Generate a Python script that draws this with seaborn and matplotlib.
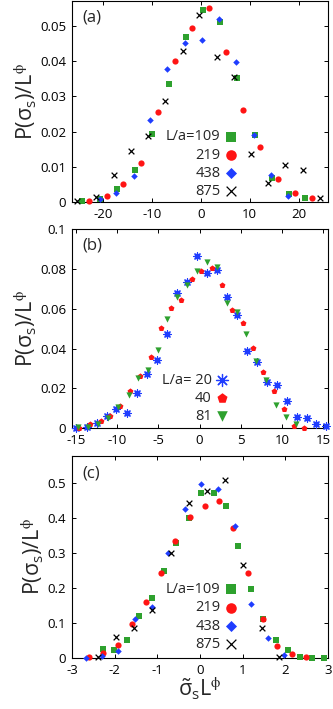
import numpy as np
import pandas as pd
import matplotlib
matplotlib.use("Agg")
import matplotlib.pyplot as plt
from matplotlib.ticker import FuncFormatter
import seaborn as sns

sns.set_style("ticks")
plt.rcParams['font.family'] = ['Open Sans', 'DejaVu Sans']
plt.rcParams['mathtext.fontset'] = 'custom'
plt.rcParams['mathtext.rm'] = 'Open Sans'
plt.rcParams['mathtext.it'] = 'Open Sans'
plt.rcParams['mathtext.sf'] = 'Open Sans'
plt.rcParams['axes.unicode_minus'] = False

# ---------------- panel (a) ----------------
a109_x = [-24.3, -20.5, -17.1, -13.5, -10.0, -6.5, -3.1, 0.5, 3.9, 7.5, 11.0, 14.5, 18.0, 21.4]
a109_y = [0.0004, 0.0008, 0.0037, 0.0092, 0.0194, 0.0334, 0.0468, 0.0544, 0.0512, 0.0352, 0.0190, 0.0069, 0.0023, 0.0011]
a219_x = [-22.8, -19.2, -15.8, -12.2, -8.8, -5.2, -1.8, 1.7, 5.2, 8.7, 12.2, 15.7, 19.2, 22.7]
a219_y = [0.0003, 0.0018, 0.0050, 0.0110, 0.0255, 0.0400, 0.0493, 0.0550, 0.0426, 0.0261, 0.0157, 0.0065, 0.0025, 0.0011]
a438_x = [-20.6, -17.2, -13.7, -10.3, -6.8, -3.3, 0.3, 3.7, 7.2, 10.9, 14.3, 17.8]
a438_y = [0.0008, 0.0025, 0.0074, 0.0234, 0.0376, 0.0451, 0.0460, 0.0520, 0.0398, 0.0191, 0.0076, 0.0018]
a875_x = [-25.2, -21.3, -17.8, -14.3, -10.7, -7.3, -3.7, -0.3, 3.3, 6.7, 10.3, 13.8, 17.3, 20.8, 24.3]
a875_y = [0.0002, 0.0013, 0.0078, 0.0146, 0.0186, 0.0286, 0.0429, 0.0531, 0.0410, 0.0356, 0.0135, 0.0055, 0.0105, 0.0090, 0.0011]

# ---------------- panel (b) ----------------
b20_x = [-15.0, -13.7, -12.4, -11.2, -10.1, -8.8, -7.6, -6.4, -5.2, -4.0, -2.7, -1.5, -0.3, 0.9, 2.1, 3.3, 4.6, 5.8, 7.0, 8.2, 9.4, 10.6, 11.8, 13.0, 14.2, 15.4]
b20_y = [0.0000, 0.0008, 0.0027, 0.0059, 0.0095, 0.0077, 0.0178, 0.0270, 0.0345, 0.0474, 0.0680, 0.0735, 0.0866, 0.0781, 0.0794, 0.0660, 0.0568, 0.0389, 0.0333, 0.0233, 0.0216, 0.0136, 0.0057, 0.0052, 0.0020, 0.0010]
b40_x = [-14.6, -13.3, -12.0, -10.9, -9.7, -8.4, -7.2, -5.9, -4.7, -3.5, -2.2, -0.9, 0.2, 1.5, 2.7, 4.0, 5.3, 6.5, 7.7, 9.0, 10.2, 11.5, 12.7]
b40_y = [0.0003, 0.0020, 0.0035, 0.0060, 0.0111, 0.0186, 0.0261, 0.0357, 0.0501, 0.0601, 0.0642, 0.0750, 0.0787, 0.0804, 0.0719, 0.0595, 0.0526, 0.0404, 0.0283, 0.0189, 0.0099, 0.0012, 0.0000]
b81_x = [-14.8, -13.5, -12.3, -11.1, -9.9, -8.6, -7.5, -6.3, -5.1, -3.9, -2.7, -1.5, -0.3, 0.9, 2.1, 3.3, 4.5, 5.7, 6.9, 8.1, 9.3, 10.5, 11.7]
b81_y = [0.0007, 0.0007, 0.0022, 0.0052, 0.0106, 0.0169, 0.0250, 0.0293, 0.0395, 0.0548, 0.0657, 0.0719, 0.0791, 0.0832, 0.0809, 0.0630, 0.0581, 0.0471, 0.0335, 0.0243, 0.0116, 0.0055, 0.0022]

# ---------------- panel (c) ----------------
c109_x = [-2.28, -2.01, -1.72, -1.42, -1.13, -0.84, -0.55, -0.26, 0.02, 0.32, 0.62, 0.90, 1.19, 1.48, 1.77, 2.06, 2.34, 2.63, 2.91]
c109_y = [0.027, 0.023, 0.052, 0.120, 0.173, 0.248, 0.329, 0.400, 0.474, 0.472, 0.435, 0.320, 0.197, 0.113, 0.052, 0.023, 0.004, 0.001, 0.000]
c219_x = [-2.61, -2.27, -1.93, -1.59, -1.27, -0.92, -0.58, -0.23, 0.11, 0.45, 0.78, 1.13, 1.47, 1.80, 2.15, 2.48]
c219_y = [0.002, 0.013, 0.036, 0.097, 0.159, 0.243, 0.336, 0.404, 0.435, 0.449, 0.373, 0.243, 0.111, 0.035, 0.011, 0.002]
c438_x = [-2.67, -2.29, -1.91, -1.52, -1.13, -0.74, -0.35, 0.03, 0.42, 0.81, 1.20, 1.59, 1.98]
c438_y = [0.000, 0.006, 0.021, 0.113, 0.146, 0.302, 0.426, 0.498, 0.485, 0.377, 0.155, 0.058, 0.008]
c875_x = [-2.40, -1.97, -1.55, -1.12, -0.69, -0.26, 0.16, 0.59, 1.02, 1.45, 1.86]
c875_y = [0.004, 0.061, 0.085, 0.137, 0.302, 0.445, 0.479, 0.511, 0.266, 0.085, 0.004]

labels_ac = ["L/a=109", "219", "438", "875"]
labels_b = ["L/a= 20", "40", "81"]

GREEN = "#2ea12e"
RED = "#ff1414"
BLUE = "#1f3dff"
BLACK = "#000000"

fig = plt.figure(figsize=(3.33, 7.09), dpi=100)
ax_a = fig.add_axes([0.216, 0.715, 0.769, 0.284])
ax_b = fig.add_axes([0.216, 0.396, 0.769, 0.281])
ax_c = fig.add_axes([0.216, 0.072, 0.769, 0.285])

styles_ac = [
    dict(marker="s", color=GREEN, s=18, lw=0),
    dict(marker="o", color=RED, s=20, lw=0),
    dict(marker="D", color=BLUE, s=11, lw=0),
    dict(marker="x", color=BLACK, s=17, lw=0.9),
]
styles_b = [
    dict(marker=(8, 2, 0), color=BLUE, s=26, lw=0.9),
    dict(marker="p", color=RED, s=20, lw=0),
    dict(marker="v", color=GREEN, s=20, lw=0),
]

def draw(ax, series, labels, styles):
    for (x, y), lab, st in zip(series, labels, styles):
        df = pd.DataFrame({"x": x, "y": y})
        sns.scatterplot(data=df, x="x", y="y", ax=ax, label=lab,
                        marker=st["marker"], color=st["color"], s=st["s"],
                        linewidth=st["lw"], edgecolor=st["color"], clip_on=False, zorder=3)

draw(ax_a, [(a109_x, a109_y), (a219_x, a219_y), (a438_x, a438_y), (a875_x, a875_y)], labels_ac, styles_ac)
draw(ax_b, [(b20_x, b20_y), (b40_x, b40_y), (b81_x, b81_y)], labels_b, styles_b)
draw(ax_c, [(c109_x, c109_y), (c219_x, c219_y), (c438_x, c438_y), (c875_x, c875_y)], labels_ac, styles_ac)

fmt = FuncFormatter(lambda v, p: "%g" % round(v, 6))

ax_a.set_xlim(-26.3, 26.0); ax_a.set_ylim(0, 0.0571)
ax_a.set_xticks([-20, -10, 0, 10, 20]); ax_a.set_yticks([0, 0.01, 0.02, 0.03, 0.04, 0.05])
ax_b.set_xlim(-15.5, 15.6); ax_b.set_ylim(0, 0.1)
ax_b.set_xticks([-15, -10, -5, 0, 5, 10, 15]); ax_b.set_yticks([0, 0.02, 0.04, 0.06, 0.08, 0.1])
ax_c.set_xlim(-3, 3); ax_c.set_ylim(0, 0.579)
ax_c.set_xticks([-3, -2, -1, 0, 1, 2, 3]); ax_c.set_yticks([0, 0.1, 0.2, 0.3, 0.4, 0.5])

ylab = r'P($\mathregular{\sigma_s}$)/L$^{\mathregular{\phi}}$'
for ax, tag in [(ax_a, "(a)"), (ax_b, "(b)"), (ax_c, "(c)")]:
    ax.xaxis.set_major_formatter(fmt)
    ax.yaxis.set_major_formatter(fmt)
    ax.tick_params(direction="in", top=True, right=True, length=3, width=0.7,
                   labelsize=9.5, colors="black")
    ax.tick_params(axis="y", pad=4)
    ax.tick_params(axis="x", pad=4.5)
    for sp in ax.spines.values():
        sp.set_linewidth(0.8)
        sp.set_color("black")
    ax.set_xlabel("")
    ax.set_ylabel(ylab, fontsize=15.5, labelpad=1)
    ax.text(0.04, 0.915, tag, transform=ax.transAxes, fontsize=12, va="center", ha="left")

ax_c.set_xlabel(r'$\mathregular{\tilde{\sigma}_s}$L$^{\mathregular{\phi}}$', fontsize=15.5, labelpad=-1)

def right_legend(ax, anchor):
    leg = ax.legend(loc="lower right", bbox_to_anchor=anchor, frameon=False,
                    markerfirst=False, fontsize=10.5, handlelength=0.6,
                    handletextpad=0.45, labelspacing=0.22, borderpad=0,
                    borderaxespad=0, markerscale=1.7)
    for col in leg._legend_handle_box.get_children():
        col.align = "right"
    return leg

right_legend(ax_a, (0.64, 0.015))
right_legend(ax_b, (0.605, 0.02))
right_legend(ax_c, (0.64, 0.03))

fig.savefig("out.png", dpi=100)
